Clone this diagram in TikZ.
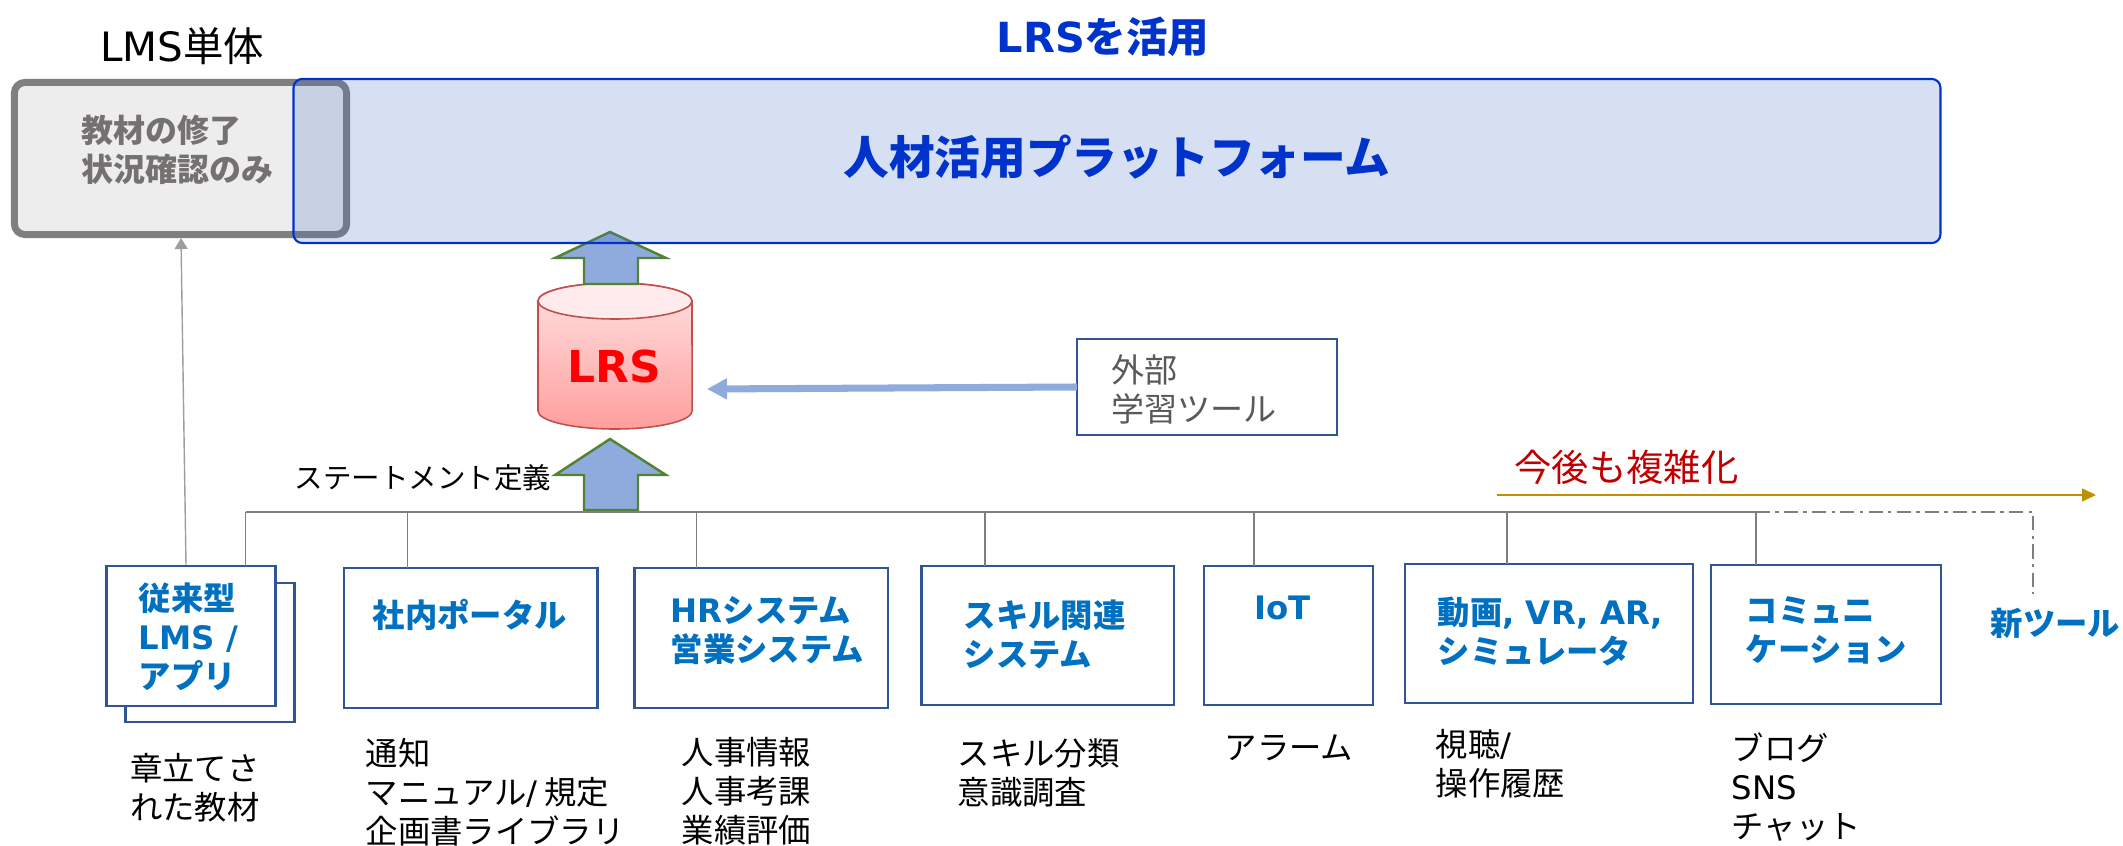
\documentclass[tikz,border=0pt]{standalone}
\usepackage{fontspec}
\setmainfont{Noto Sans CJK JP}
\newfontfamily\latinfont{DejaVu Sans}
\newcommand{\ltn}[1]{{\latinfont #1}}
\usetikzlibrary{arrows.meta}
\definecolor{platblue}{RGB}{0,51,204}
\definecolor{platfill}{RGB}{68,114,196}
\definecolor{boxblue}{RGB}{47,85,151}
\definecolor{titleblue}{RGB}{0,112,192}
\definecolor{blockfill}{RGB}{143,170,220}
\definecolor{blockgreen}{RGB}{84,130,53}
\definecolor{lmsgray}{RGB}{127,127,127}
\definecolor{lmstext}{RGB}{118,113,113}
\definecolor{outtext}{RGB}{89,89,89}
\definecolor{dbred}{RGB}{192,80,77}
\definecolor{growred}{RGB}{192,0,0}
\definecolor{growgold}{RGB}{191,144,0}
\tikzset{
  sysbox/.style={draw=boxblue,line width=0.7pt,fill=white,inner sep=0pt,outer sep=0pt},
  systitle/.style={anchor=west,inner sep=0pt,align=left,text=titleblue,font=\fontsize{9.2}{11.1}\selectfont\bfseries},
  subtext/.style={anchor=west,inner sep=0pt,align=left,font=\fontsize{9.2}{11.1}\selectfont},
  upblock/.style={draw=blockgreen,line width=0.7pt,fill=blockfill},
  drop/.style={draw=lmsgray,line width=0.45pt}
}
\begin{document}
\begin{tikzpicture}[x=0.01cm,y=-0.01cm]
  \useasboundingbox (0,0) rectangle (2123,846);
  \node [inner sep=0pt,font=\fontsize{11.5}{13}\selectfont] (lmstitle) at (182,46) {\ltn{LMS}単体};
  \node [inner sep=0pt,text=platblue,font=\fontsize{11.8}{14}\selectfont\bfseries] (lrstitle) at (1103,37) {\ltn{LRS}を活用};
  \node [draw=lmsgray,line width=2pt,fill=black!7,rounded corners=3pt,inner sep=0pt,minimum width=3.32cm,minimum height=1.52cm] (lmsbox) at (180.5,158.5) {};
  \node [anchor=west,inner sep=0pt,align=left,text=lmstext,font=\fontsize{9.1}{11.1}\selectfont\bfseries] (lmstext) at (81,149.5) {教材の修了\\状況確認のみ};

  \draw [draw=dbred,line width=0.45pt,top color=red!12,bottom color=red!38!white] (538,301) -- (538,411) arc (180:360:0.77cm and 0.18cm) -- (692,301) arc (0:180:0.77cm and 0.18cm) -- cycle;
  \draw [draw=dbred,line width=0.45pt,fill=red!8] (615,301) ellipse (0.77cm and 0.18cm);
  \node [inner sep=0pt,text=red,font=\fontsize{12.5}{14}\selectfont\bfseries] (lrs) at (614,367) {\ltn{LRS}};

  \draw [upblock] (584,284) -- (584,258) -- (555,258) -- (610,232) -- (666,258) -- (638,258) -- (638,284) -- cycle;
  \draw [upblock] (584,510) -- (584,475) -- (555,475) -- (610,439) -- (666,475) -- (638,475) -- (638,510) -- cycle;

  \node [draw=platblue,line width=0.6pt,fill=platfill,fill opacity=0.22,draw opacity=1,rounded corners=2.5pt,inner sep=0pt,minimum width=16.46cm,minimum height=1.64cm] (platform) at (1117,161) {};
  \node [inner sep=0pt,text=platblue,font=\fontsize{13}{15}\selectfont\bfseries] (platname) at (1117,157) {人材活用プラットフォーム};

  \node [sysbox,minimum width=2.6cm,minimum height=0.96cm] (outbox) at (1207,387) {};
  \node [subtext,text=outtext,font=\fontsize{9.4}{11.1}\selectfont] (outtext) at (1111,389.5) {外部\\学習ツール};
  \coordinate (lrsin) at (707,389);
  \draw [-{Triangle[length=2mm,width=2mm]},color=blockfill,line width=2pt] (outbox.west) -- (lrsin);

  \node [anchor=east,inner sep=0pt,font=\fontsize{8.1}{10}\selectfont] (stmt) at (552,478) {ステートメント定義};
  \coordinate (busl) at (245.5,512);
  \coordinate (busr) at (1756,512);
  \draw [draw=lmsgray,line width=0.7pt] (busl) -- (busr);

  \node [sysbox,minimum width=1.69cm,minimum height=1.39cm] (lmsback) at (210,652.5) {};
  \node [sysbox,minimum width=1.685cm,minimum height=1.4cm] (lmsapp) at (191,636) {};
  \node [sysbox,minimum width=2.535cm,minimum height=1.4cm] (portal) at (470.75,638) {};
  \node [sysbox,minimum width=2.535cm,minimum height=1.4cm] (hrsys) at (761.3,638) {};
  \node [sysbox,minimum width=2.525cm,minimum height=1.39cm] (skill) at (1047.75,635.5) {};
  \node [sysbox,minimum width=1.69cm,minimum height=1.39cm] (iot) at (1288.5,635.5) {};
  \node [sysbox,minimum width=2.88cm,minimum height=1.39cm] (video) at (1549,633.5) {};
  \node [sysbox,minimum width=2.3cm,minimum height=1.39cm] (comm) at (1826,634.5) {};

  \coordinate (t1) at (245.5,512);
  \coordinate (t2) at (407.5,512);
  \coordinate (t3) at (696.5,512);
  \coordinate (t4) at (985,512);
  \coordinate (t5) at (1254,512);
  \coordinate (t6) at (1507,512);
  \coordinate (t7) at (1756,512);
  \draw [drop] (t1) -- (t1 |- lmsapp.north);
  \draw [drop] (t2) -- (t2 |- portal.north);
  \draw [drop] (t3) -- (t3 |- hrsys.north);
  \draw [drop] (t4) -- (t4 |- skill.north);
  \draw [drop] (t5) -- (t5 |- iot.north);
  \draw [drop] (t6) -- (t6 |- video.north);
  \draw [drop] (t7) -- (t7 |- comm.north);

  \coordinate (lmsfoot) at (186,565);
  \coordinate (lmshead) at (181,238);
  \draw [-{Triangle[length=1.1mm,width=1.3mm]},color=black!38,line width=0.4pt] (lmsfoot) -- (lmshead);

  \node [systitle] (lmsapptitle) at (138,637) {従来型\\\ltn{LMS /}\\アプリ};
  \node [systitle] (portaltitle) at (372,615) {社内ポータル};
  \node [systitle] (hrtitle) at (670,630.5) {\ltn{HR}システム\\営業システム};
  \node [systitle] (skilltitle) at (963,634.5) {スキル関連\\システム};
  \node [systitle] (iottitle) at (1254,608) {\ltn{IoT}};
  \node [systitle] (videotitle) at (1437,631.5) {動画\ltn{, VR, AR,}\\シミュレータ};
  \node [systitle] (commtitle) at (1745,630.5) {コミュニ\\ケーション};

  \node [subtext] (lmssub) at (129.5,787.5) {章立てさ\\れた教材};
  \node [subtext] (portalsub) at (365,792.5) {通知\\マニュアル\ltn{/} 規定\\企画書ライブラリ};
  \node [subtext] (hrsub) at (681,791.5) {人事情報\\人事考課\\業績評価};
  \node [subtext] (skillsub) at (957,772.5) {スキル分類\\意識調査};
  \node [subtext] (iotsub) at (1224,748) {アラーム};
  \node [subtext] (videosub) at (1435,764) {視聴\ltn{/}\\操作履歴};
  \node [subtext] (commsub) at (1731,787) {ブログ\\\ltn{SNS}\\チャット};

  \node [anchor=west,inner sep=0pt,text=growred,font=\fontsize{10.6}{13}\selectfont] (growtext) at (1514,467) {今後も複雑化};
  \coordinate (growfoot) at (1497,495);
  \coordinate (growhead) at (2096,495);
  \draw [-{Triangle[length=1.4mm,width=1.3mm]},color=growgold,line width=0.45pt] (growfoot) -- (growhead);

  \node [systitle] (newtool) at (1990,623) {新ツール};
  \coordinate (newcorner) at (2033,512);
  \coordinate (newend) at (2033,594);
  \draw [draw=lmsgray,line width=0.45pt,dash pattern=on 4pt off 1.5pt on 1pt off 1.5pt] (busr) -- (newcorner) -- (newend);
\end{tikzpicture}
\end{document}
